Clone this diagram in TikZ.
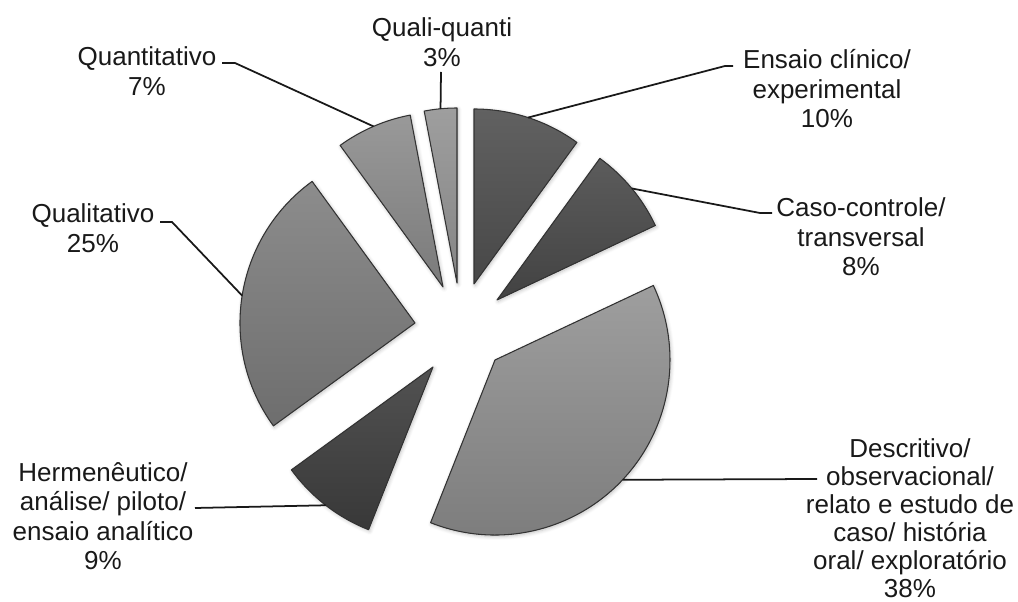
\documentclass[tikz,border=0pt]{standalone}
\usepackage{fontspec}
\setmainfont{Liberation Sans}
\usepackage{xcolor}
\usepackage{tikz}
\usetikzlibrary{calc, shadows.blur}

\begin{document}
\begin{tikzpicture}[
  x=0.02cm, y=0.02cm,
  slice/.style={draw=black!80, line width=0.6pt, line join=round,
    blur shadow={shadow xshift=0.6pt, shadow yshift=-0.8pt, shadow blur steps=6, shadow opacity=25}},
  lbl/.style={align=center, font=\fontsize{14.8}{16.8}\selectfont, text=black!90, inner sep=0pt},
  leader/.style={draw=black!90, line width=1pt}
]
\useasboundingbox (0,0) rectangle (1018,602);

\coordinate (ens-o) at (474,318);
\coordinate (qq-o) at (457,319);
\coordinate (qnt-o) at (443,315);
\coordinate (qlt-o) at (415,279);
\coordinate (her-o) at (433,235);
\coordinate (des-o) at (495,242);
\coordinate (cas-o) at (497,302);

\filldraw[slice, top color=black!62, bottom color=black!72] (ens-o) -- ++(54:175) arc[start angle=54, end angle=90, radius=175] -- cycle;
\filldraw[slice, top color=black!38, bottom color=black!48] (qq-o) -- ++(90:175) arc[start angle=90, end angle=100.8, radius=175] -- cycle;
\filldraw[slice, top color=black!40, bottom color=black!52] (qnt-o) -- ++(100.8:175) arc[start angle=100.8, end angle=126, radius=175] -- cycle;
\filldraw[slice, top color=black!45, bottom color=black!57] (qlt-o) -- ++(126:175) arc[start angle=126, end angle=216, radius=175] -- cycle;
\filldraw[slice, top color=black!68, bottom color=black!78] (her-o) -- ++(216:175) arc[start angle=216, end angle=248.4, radius=175] -- cycle;
\filldraw[slice, top color=black!38, bottom color=black!52] (des-o) -- ++(-111.6:175) arc[start angle=-111.6, end angle=25.2, radius=175] -- cycle;
\filldraw[slice, top color=black!64, bottom color=black!74] (cas-o) -- ++(25.2:175) arc[start angle=25.2, end angle=54, radius=175] -- cycle;

\coordinate (ens-p) at ($(ens-o)+(72:175)$);
\coordinate (qq-p) at ($(qq-o)+(95.4:175)$);
\coordinate (qnt-p) at ($(qnt-o)+(113.4:175)$);
\coordinate (qlt-p) at ($(qlt-o)+(171:175)$);
\coordinate (her-p) at ($(her-o)+(232.2:175)$);
\coordinate (des-p) at ($(des-o)+(316.8:175)$);
\coordinate (cas-p) at ($(cas-o)+(39.6:175)$);

\node[lbl] (qq-l) at (442,560) {Quali-quanti\\3\%};
\node[lbl] (qnt-l) at (147,531) {Quantitativo\\7\%};
\node[lbl] (ens-l) at (827,513) {Ensaio clínico/\\experimental\\10\%};
\node[lbl] (cas-l) at (861,365) {Caso-controle/\\transversal\\8\%};
\node[lbl] (qlt-l) at (93,374) {Qualitativo\\25\%};
\node[lbl] (her-l) at (103,86) {Hermenêutico/\\análise/ piloto/\\ensaio analítico\\9\%};
\node[lbl, font=\fontsize{14.8}{16}\selectfont] (des-l) at (910,84) {Descritivo/\\observacional/\\relato e estudo de\\caso/ história\\oral/ exploratório\\38\%};

\coordinate (qq-e) at (441,530);
\coordinate (qnt-k) at (235,539);
\coordinate (qnt-e) at (222,539);
\coordinate (ens-k) at (725,536);
\coordinate (ens-e) at (733,536);
\coordinate (cas-k) at (760,389);
\coordinate (cas-e) at (772,389);
\coordinate (qlt-k) at (172,380);
\coordinate (qlt-e) at (160,380);
\coordinate (her-e) at (195,94);
\coordinate (des-e) at (817,123);

\draw[leader] (qq-p) -- (qq-e);
\draw[leader] (qnt-p) -- (qnt-k) -- (qnt-e);
\draw[leader] (ens-p) -- (ens-k) -- (ens-e);
\draw[leader] (cas-p) -- (cas-k) -- (cas-e);
\draw[leader] (qlt-p) -- (qlt-k) -- (qlt-e);
\draw[leader] (her-p) -- (her-e);
\draw[leader] (des-p) -- (des-e);
\end{tikzpicture}
\end{document}
